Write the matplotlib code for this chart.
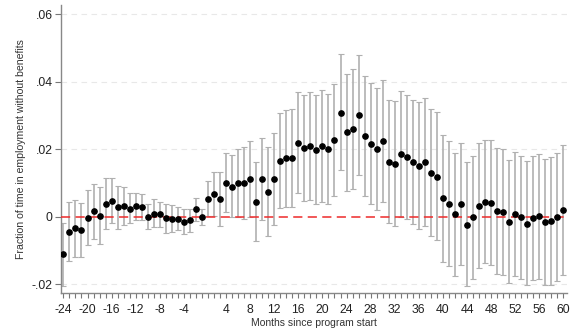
import numpy as np
import matplotlib
matplotlib.use('Agg')
import matplotlib.pyplot as plt

plt.rcParams['font.family'] = ['Liberation Sans', 'DejaVu Sans']

# months since program start (month 0 is not estimated)
months = list(range(-24, 0)) + list(range(1, 61))

coef = [-0.0110, -0.0045, -0.0034, -0.0038, -0.0003, 0.0016, 0.0002, 0.0039,
        0.0047, 0.0028, 0.0033, 0.0023, 0.0031, 0.0030, 0.0000, 0.0009,
        0.0007, -0.0005, -0.0006, -0.0007, -0.0016, -0.0010, 0.0022, 0.0000,
        # months 1..60
        0.0053, 0.0068, 0.0053, 0.0101, 0.0089, 0.0099, 0.0101, 0.0111,
        0.0045, 0.0111, 0.0074, 0.0111, 0.0166, 0.0174, 0.0174, 0.0220,
        0.0204, 0.0210, 0.0198, 0.0210, 0.0202, 0.0228, 0.0309, 0.0250,
        0.0260, 0.0301, 0.0239, 0.0216, 0.0202, 0.0225, 0.0163, 0.0156,
        0.0186, 0.0177, 0.0161, 0.0151, 0.0163, 0.0131, 0.0119, 0.0055,
        0.0039, 0.0007, 0.0038, -0.0024, -0.0002, 0.0032, 0.0044, 0.0041,
        0.0016, 0.0014, -0.0015, 0.0008, -0.0001, -0.0021, -0.0003, 0.0001,
        -0.0017, -0.0013, -0.0001, 0.0020]

ci_high = [-0.0018, 0.0045, 0.0050, 0.0041, 0.0078, 0.0098, 0.0087, 0.0114,
           0.0114, 0.0092, 0.0088, 0.0069, 0.0069, 0.0068, 0.0037, 0.0052,
           0.0044, 0.0039, 0.0034, 0.0029, 0.0023, 0.0022, 0.0056, 0.0022,
           0.0106, 0.0134, 0.0132, 0.0190, 0.0182, 0.0202, 0.0208, 0.0225,
           0.0162, 0.0234, 0.0207, 0.0247, 0.0309, 0.0317, 0.0320, 0.0370,
           0.0360, 0.0370, 0.0360, 0.0375, 0.0365, 0.0395, 0.0483, 0.0424,
           0.0437, 0.0479, 0.0418, 0.0397, 0.0383, 0.0406, 0.0346, 0.0342,
           0.0373, 0.0361, 0.0345, 0.0340, 0.0351, 0.0320, 0.0310, 0.0242,
           0.0225, 0.0190, 0.0220, 0.0162, 0.0181, 0.0218, 0.0229, 0.0227,
           0.0203, 0.0201, 0.0169, 0.0192, 0.0180, 0.0164, 0.0181, 0.0186,
           0.0171, 0.0177, 0.0190, 0.0213]

ci_low = [-0.0205, -0.0132, -0.0119, -0.0119, -0.0084, -0.0067, -0.0082, -0.0036,
          -0.0020, -0.0035, -0.0024, -0.0020, -0.0010, -0.0009, -0.0037, -0.0031,
          -0.0031, -0.0047, -0.0045, -0.0040, -0.0052, -0.0046, -0.0013, -0.0024,
          0.0003, 0.0003, -0.0027, 0.0014, -0.0002, -0.0002, -0.0007, 0.0000,
          -0.0072, -0.0010, -0.0056, -0.0025, 0.0025, 0.0029, 0.0029, 0.0069,
          0.0047, 0.0049, 0.0039, 0.0043, 0.0039, 0.0060, 0.0139, 0.0077,
          0.0082, 0.0125, 0.0060, 0.0037, 0.0020, 0.0043, -0.0020, -0.0028,
          0.0000, -0.0006, -0.0023, -0.0037, -0.0027, -0.0057, -0.0069, -0.0133,
          -0.0145, -0.0175, -0.0143, -0.0206, -0.0185, -0.0151, -0.0138, -0.0144,
          -0.0171, -0.0173, -0.0196, -0.0176, -0.0185, -0.0203, -0.0189, -0.0186,
          -0.0203, -0.0203, -0.0192, -0.0173]

x_labels = [-24, -20, -16, -12, -8, -4, 4, 8, 12, 16, 20, 24, 28, 32, 36,
            40, 44, 48, 52, 56, 60]
y_ticks = [-0.02, 0, 0.02, 0.04, 0.06]
y_ticklabels = ['-.02', '0', '.02', '.04', '.06']

pos = np.arange(len(months))
coef = np.array(coef)
err = [coef - np.array(ci_low), np.array(ci_high) - coef]

fig = plt.figure(figsize=(5.76, 3.34), dpi=100)
ax = fig.add_axes([0.1054, 0.122, 0.879, 0.863])

# grid
for yv in [-0.02, 0.02, 0.04, 0.06]:
    ax.axhline(yv, color='#e8e8e8', lw=0.8, ls=(0, (5, 4)), zorder=0)

ax.errorbar(pos, coef, yerr=err, fmt='none', ecolor='#b0b0b0',
            elinewidth=1.2, capsize=2.2, capthick=0.8, zorder=2)
ax.axhline(0, color='#ee2a2a', lw=1.1, ls=(0, (6, 3.5)), zorder=3)
ax.plot(pos, coef, 'o', color='black', markersize=3.8, zorder=4)

ax.set_xlim(-0.45, 83.6)
ax.set_ylim(-0.0227, 0.0628)

tick_lab = [str(m) if m in x_labels else '' for m in months]
ax.set_xticks(pos)
ax.set_xticklabels(tick_lab)
ax.set_yticks(y_ticks)
ax.set_yticklabels(y_ticklabels)

ax.tick_params(axis='both', direction='out', length=3.5, width=0.8,
               color='#777777', labelsize=8.8, labelcolor='#222222', pad=2)
ax.tick_params(axis='x', pad=4.5)
ax.tick_params(axis='y', length=4)

for s in ['top', 'right']:
    ax.spines[s].set_visible(False)
for s in ['left', 'bottom']:
    ax.spines[s].set_color('#888888')
    ax.spines[s].set_linewidth(1.0)

ax.set_xlabel('Months since program start', fontsize=7.5, color='#333333', labelpad=1)
ax.set_ylabel('Fraction of time in employment without benefits', fontsize=7.6,
              color='#333333', labelpad=4)

fig.savefig('out.png', dpi=100)
